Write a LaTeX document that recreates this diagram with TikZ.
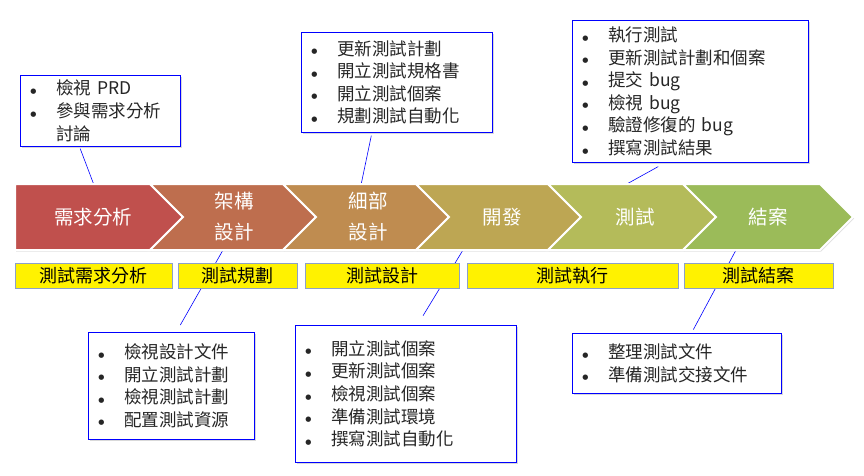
\documentclass[tikz,border=0pt]{standalone}
\usepackage{fontspec}
\setmainfont{Noto Sans CJK TC}
\newfontfamily\dotfont{DejaVu Sans}
\usepackage{tikz}
\usetikzlibrary{shadows}
\usetikzlibrary{calc}
\usetikzlibrary{backgrounds}
\definecolor{chevA}{RGB}{192,80,77}
\definecolor{chevB}{RGB}{190,110,78}
\definecolor{chevC}{RGB}{191,140,80}
\definecolor{chevD}{RGB}{189,166,83}
\definecolor{chevE}{RGB}{180,187,90}
\definecolor{chevF}{RGB}{155,187,89}
\definecolor{phaseline}{RGB}{140,160,200}
\newcommand{\calloutitem}[1]{\makebox[26pt][l]{\raisebox{1.5pt}{\dotfont\fontsize{7}{7}\selectfont ●}}#1}
\tikzstyle{callout} = [draw=blue, fill=white, line width=0.7pt, anchor=north west,
    inner xsep=10pt, inner ysep=2pt, align=left, text=black!85,
    font=\fontsize{17.5}{22.6}\selectfont,
    drop shadow={shadow xshift=1.5pt, shadow yshift=-1.5pt, opacity=0.3}]
\tikzstyle{phase} = [draw=phaseline, fill=yellow, anchor=north west, inner sep=1pt,
    minimum height=25pt, font=\fontsize{18}{20}\selectfont,
    drop shadow={shadow xshift=1pt, shadow yshift=-1pt, opacity=0.25}]
\tikzstyle{stage} = [text=white, align=center, font=\fontsize{19.5}{31}\selectfont]
\tikzstyle{link} = [draw=blue, line width=0.6pt]

\begin{document}
\begin{tikzpicture}[x=1pt, y=-1pt]
  \useasboundingbox (0,0) rectangle (864,476);
  % Draw chevrons
  \foreach \xa/\xb/\dep in {15/150/0, 150/283/33, 283/416/33, 416/548/33, 548/683/33, 683/820/33}
    \fill[black!25, opacity=0.5] (\xa+1,185.5) -- (\xb+1,185.5) -- (\xb+34,218.5) -- (\xb+1,251.5)
      -- (\xa+1,251.5) -- (\xa+\dep+1,218.5) -- cycle;
  \foreach \xa/\xb/\dep/\col in {15/150/0/chevA, 150/283/33/chevB, 283/416/33/chevC,
                                 416/548/33/chevD, 548/683/33/chevE, 683/820/33/chevF}
    \filldraw[fill=\col, draw=white, line width=2pt] (\xa,184) -- (\xb,184) -- (\xb+33,217)
      -- (\xb,250) -- (\xa,250) -- (\xa+\dep,217) -- cycle;
  % Place nodes
  \node [stage] (req) at (93,217) {需求分析};
  \node [stage] (arch) at (234,217) {架構\\設計};
  \node [stage] (detail) at (368,217) {細部\\設計};
  \node [stage] (dev) at (502,217) {開發};
  \node [stage] (test) at (635,217) {測試};
  \node [stage] (close) at (768,217) {結案};

  \node [phase, minimum width=157pt] (preq) at (15,263) {測試需求分析};
  \node [phase, minimum width=119pt] (pplan) at (178,263) {測試規劃};
  \node [phase, minimum width=154pt] (pdesign) at (305,263) {測試設計};
  \node [phase, minimum width=211pt] (prun) at (467,263) {測試執行};
  \node [phase, minimum width=149pt] (pclose) at (684,263) {測試結案};

  \node [callout, text width=140pt, minimum height=71pt] (prd) at (20,75)
    {\calloutitem{檢視 PRD}\\ \calloutitem{參與需求分析}\\ \hspace*{26pt}討論};
  \node [callout, text width=171pt, minimum height=100pt] (spec) at (301,32)
    {\calloutitem{更新測試計劃}\\ \calloutitem{開立測試規格書}\\ \calloutitem{開立測試個案}\\
     \calloutitem{規劃測試自動化}};
  \node [callout, text width=216pt, minimum height=142pt] (run) at (572,20)
    {\calloutitem{執行測試}\\ \calloutitem{更新測試計劃和個案}\\ \calloutitem{提交 bug}\\
     \calloutitem{檢視 bug}\\ \calloutitem{驗證修復的 bug}\\ \calloutitem{撰寫測試結果}};
  \node [callout, text width=146pt, minimum height=107pt] (review) at (88,332)
    {\calloutitem{檢視設計文件}\\ \calloutitem{開立測試計劃}\\ \calloutitem{檢視測試計劃}\\
     \calloutitem{配置測試資源}};
  \node [callout, text width=201pt, minimum height=137pt] (cases) at (295,325)
    {\calloutitem{開立測試個案}\\ \calloutitem{更新測試個案}\\ \calloutitem{檢視測試個案}\\
     \calloutitem{準備測試環境}\\ \calloutitem{撰寫測試自動化}};
  \node [callout, text width=189pt, minimum height=60pt] (handover) at (572,333)
    {\calloutitem{整理測試文件}\\ \calloutitem{準備測試交接文件}};

  \coordinate (prdpin) at (94,185);
  \coordinate (specpin) at (361,185);
  \coordinate (runpin) at (625,185);
  \coordinate (reviewpin) at (223,250);
  \coordinate (casespin) at (463,250);
  \coordinate (handoverpin) at (736,250);
  % Draw edges
  \begin{pgfonlayer}{background}
  \path[link, shorten <=2pt] ($(prd.south west)!0.37!(prd.south east)$) -- (prdpin);
  \path[link, shorten <=3pt] ($(spec.south west)!0.37!(spec.south east)$) -- (specpin);
  \path[link, shorten <=8pt] ($(run.south west)!0.394!(run.south east)$) -- (runpin);
  \path[link, shorten <=8pt] ($(review.north west)!0.53!(review.north east)$) -- (reviewpin);
  \path[link, shorten <=11pt] ($(cases.north west)!0.552!(cases.north east)$) -- (casespin);
  \path[link, shorten <=4pt] ($(handover.north west)!0.57!(handover.north east)$) -- (handoverpin);
  \end{pgfonlayer}
\end{tikzpicture}
\end{document}
